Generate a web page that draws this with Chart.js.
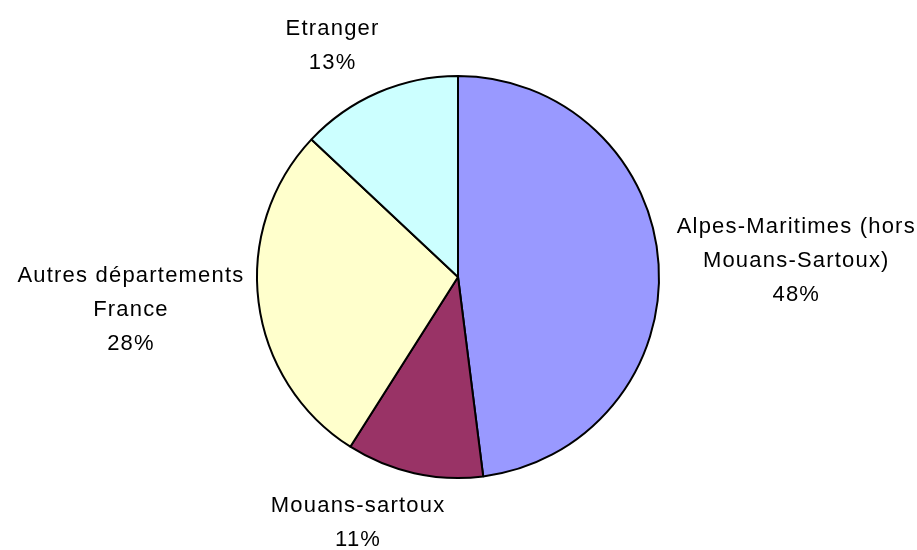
<!DOCTYPE html>
<html>
<head>
<meta charset="utf-8">
<script src="https://cdn.jsdelivr.net/npm/chart.js@4/dist/chart.umd.min.js"></script>
<style>
  html, body { margin: 0; padding: 0; background: #ffffff; }
  #wrap { width: 917px; height: 550px; }
</style>
</head>
<body>
<div id="wrap"><canvas id="c" width="917" height="550"></canvas></div>
<script>
// Categories (clockwise from 12 o'clock)
const categories = ["Alpes-Maritimes (hors Mouans-Sartoux)", "Mouans-sartoux", "Autres départements France", "Etranger"];
// Label lines as printed on the chart
const labelLines = [["Alpes-Maritimes (hors", "Mouans-Sartoux)"], ["Mouans-sartoux"], ["Autres départements", "France"], ["Etranger"]];
// Shares in percent
const shares = [48, 11, 28, 13];

const colors = ["#9999FF", "#993366", "#FFFFCC", "#CCFFFF"];
// label block centre, in units of the pie radius, relative to the pie centre
const labelPos = [[1.68, -0.08], [-0.50, 1.225], [-1.63, 0.165], [-0.627, -1.15]];

const labelPlugin = {
  id: 'outsideLabels',
  afterDraw(chart) {
    const ctx = chart.ctx;
    const arcs = chart.getDatasetMeta(0).data;
    if (!arcs.length) return;
    const cx = arcs[0].x, cy = arcs[0].y, r = arcs[0].outerRadius;
    const total = shares.reduce((a, b) => a + b, 0);
    ctx.save();
    ctx.font = '22px "Liberation Sans", Arial, sans-serif';
    ctx.fillStyle = '#000000';
    ctx.textAlign = 'center';
    ctx.textBaseline = 'middle';
    try { ctx.letterSpacing = '1.2px'; } catch (e) {}
    const lh = 34;
    arcs.forEach((arc, i) => {
      const pct = Math.round(shares[i] / total * 100) + '%';
      const lines = labelLines[i].concat([pct]);
      const bx = cx + labelPos[i][0] * r;
      const by = cy + labelPos[i][1] * r;
      const top = by - (lines.length - 1) * lh / 2;
      lines.forEach((t, k) => ctx.fillText(t, bx + 0.6, top + k * lh));
    });
    ctx.restore();
  }
};

new Chart(document.getElementById('c'), {
  type: 'pie',
  data: {
    labels: categories,
    datasets: [{
      data: shares,
      backgroundColor: colors,
      borderColor: '#000000',
      borderWidth: 2,
      borderAlign: 'center'
    }]
  },
  options: {
    responsive: false,
    animation: false,
    rotation: 0,
    layout: { padding: { top: 75, bottom: 71, left: 200, right: 201 } },
    plugins: {
      legend: { display: false },
      tooltip: { enabled: false }
    }
  },
  plugins: [labelPlugin]
});
</script>
</body>
</html>
